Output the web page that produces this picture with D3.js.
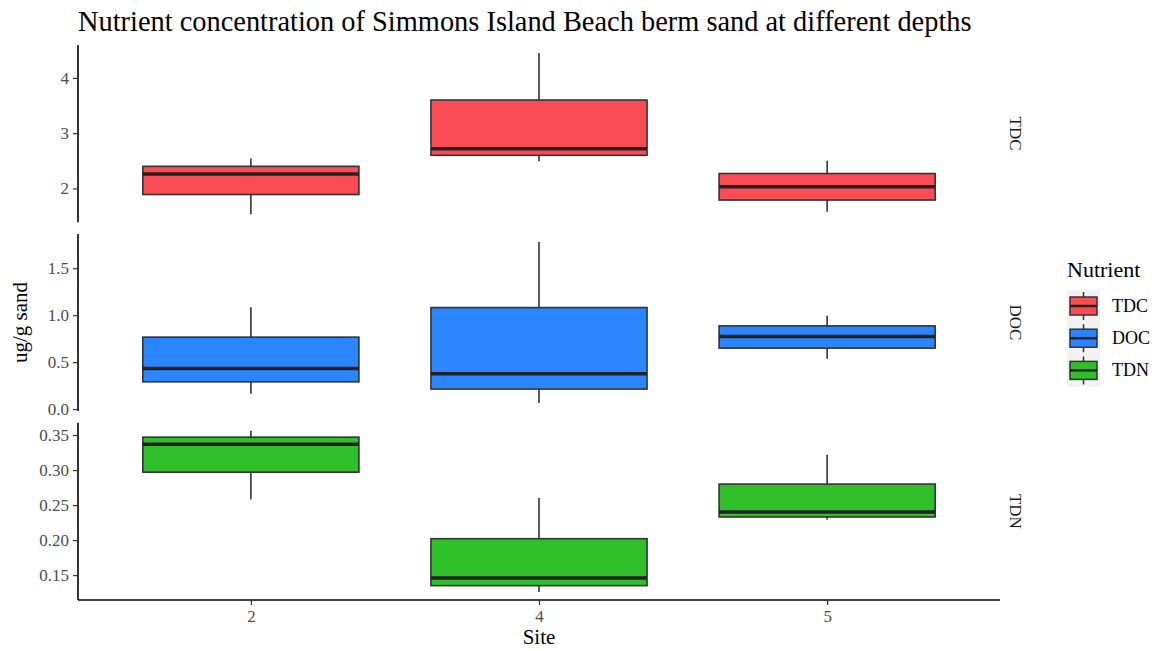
<!DOCTYPE html>
<html>
<head>
<meta charset="utf-8">
<style>
body { margin: 0; background: #fff; }
svg { font-family: 'Liberation Serif', 'DejaVu Serif', serif; }
.tick text { fill: #4d4d4d; font-size: 17px; font-family: 'Liberation Serif', 'DejaVu Serif', serif; }
.tick line { stroke: #333; stroke-width: 1.2; }
.domain { stroke: #000; stroke-width: 1.6; }
</style>
</head>
<body>
<svg></svg>
<script src="https://d3js.org/d3.v7.min.js"></script>
<script>

const sites = ['2', '4', '5'];
const nutrients = ['TDC', 'DOC', 'TDN'];
const colors = ['#fa4c55', '#2b85ff', '#2ebf2a'];

// [lower whisker, q1, median, q3, upper whisker] per site
const tdcStats = [
    [1.535, 1.89, 2.26, 2.40, 2.54],
    [2.49, 2.60, 2.72, 3.60, 4.45],
    [1.58, 1.79, 2.03, 2.27, 2.50],
];
const docStats = [
    [0.163, 0.29, 0.432, 0.766, 1.085],
    [0.064, 0.213, 0.376, 1.081, 1.78],
    [0.535, 0.649, 0.772, 0.886, 0.993],
];
const tdnStats = [
    [0.258, 0.297, 0.337, 0.347, 0.356],
    [0.126, 0.135, 0.146, 0.202, 0.260],
    [0.229, 0.233, 0.240, 0.280, 0.322],
];
const tdcTicks = [2, 3, 4];
const docTicks = [0, 0.5, 1.0, 1.5];
const tdnTicks = [0.15, 0.20, 0.25, 0.30, 0.35];

const panels = [
    {name: 'TDC', stats: tdcStats, ticks: tdcTicks, fmt: d3.format('d')},
    {name: 'DOC', stats: docStats, ticks: docTicks, fmt: d3.format('.1f')},
    {name: 'TDN', stats: tdnStats, ticks: tdnTicks, fmt: d3.format('.2f')},
];

const width = 1157;
const height = 651;
const plotLeft = 78, plotRight = 1000, plotTop = 45, plotBottom = 600;
const gap = 11.7;
const panelH = (plotBottom - plotTop - 2 * gap) / 3;

const svg = d3.select('svg')
    .attr('width', width)
    .attr('height', height);

const x = d3.scalePoint()
    .domain(sites)
    .range([plotLeft, plotRight])
    .padding(0.6);
const boxW = x.step() * 0.75;

panels.forEach((p, i) => {
    const y0 = plotTop + i * (panelH + gap);
    const lo = d3.min(p.stats, d => d[0]);
    const hi = d3.max(p.stats, d => d[4]);
    const ex = (hi - lo) * 0.05;
    const y = d3.scaleLinear()
        .domain([lo - ex, hi + ex])
        .range([y0 + panelH, y0]);

    const g = svg.append('g');
    const box = g.selectAll('.box').data(p.stats)
        .enter().append('g')
        .attr('class', 'box');

    box.append('line')
        .attr('x1', (d, j) => x(sites[j]))
        .attr('x2', (d, j) => x(sites[j]))
        .attr('y1', d => y(d[0]))
        .attr('y2', d => y(d[4]))
        .attr('stroke', '#333')
        .attr('stroke-width', 1.6);

    box.append('rect')
        .attr('x', (d, j) => x(sites[j]) - boxW / 2)
        .attr('width', boxW)
        .attr('y', d => y(d[3]))
        .attr('height', d => y(d[1]) - y(d[3]))
        .attr('fill', colors[i])
        .attr('stroke', '#333')
        .attr('stroke-width', 1.6);

    box.append('line')
        .attr('x1', (d, j) => x(sites[j]) - boxW / 2)
        .attr('x2', (d, j) => x(sites[j]) + boxW / 2)
        .attr('y1', d => y(d[2]))
        .attr('y2', d => y(d[2]))
        .attr('stroke', '#222')
        .attr('stroke-width', 3.5);

    svg.append('g')
        .attr('transform', `translate(${plotLeft},0)`)
        .call(d3.axisLeft(y).tickValues(p.ticks).tickFormat(p.fmt).tickSize(5).tickPadding(4))
        .call(a => a.select('.domain').attr('d', `M0,${y0}V${y0 + panelH}`));

    svg.append('text')
        .attr('transform', `translate(${1010},${y0 + panelH / 2}) rotate(90)`)
        .attr('text-anchor', 'middle')
        .attr('font-size', 17)
        .attr('fill', '#1a1a1a')
        .text(p.name);
});

svg.append('g')
    .attr('transform', `translate(0,${plotBottom})`)
    .call(d3.axisBottom(x).tickSize(5).tickPadding(5))
    .call(a => a.select('.domain').attr('d', `M${plotLeft},0H${plotRight}`));

svg.append('text')
    .attr('x', plotLeft)
    .attr('y', 31)
    .attr('font-size', 28.4)
    .attr('fill', '#000')
    .text('Nutrient concentration of Simmons Island Beach berm sand at different depths');

svg.append('text')
    .attr('x', (plotLeft + plotRight) / 2)
    .attr('y', 644)
    .attr('text-anchor', 'middle')
    .attr('font-size', 21)
    .text('Site');

svg.append('text')
    .attr('transform', `translate(27,${(plotTop + plotBottom) / 2}) rotate(-90)`)
    .attr('text-anchor', 'middle')
    .attr('font-size', 21)
    .text('ug/g sand');

// legend
const legend = svg.append('g').attr('transform', 'translate(1067,0)');
legend.append('text')
    .attr('x', 0)
    .attr('y', 277)
    .attr('font-size', 22)
    .text('Nutrient');

const key = legend.selectAll('.key').data(nutrients)
    .enter().append('g')
    .attr('transform', (d, i) => `translate(0,${290 + i * 32.2})`);

key.append('rect')
    .attr('width', 33).attr('height', 32.2)
    .attr('fill', '#f2f2f2');
key.append('line')
    .attr('x1', 16.5).attr('x2', 16.5)
    .attr('y1', 2).attr('y2', 30)
    .attr('stroke', '#333').attr('stroke-width', 1.5);
key.append('rect')
    .attr('x', 3).attr('y', 7)
    .attr('width', 27).attr('height', 18)
    .attr('fill', (d, i) => colors[i])
    .attr('stroke', '#333').attr('stroke-width', 1.5);
key.append('line')
    .attr('x1', 3).attr('x2', 30)
    .attr('y1', 16).attr('y2', 16)
    .attr('stroke', '#222').attr('stroke-width', 2.5);
key.append('text')
    .attr('x', 45)
    .attr('y', 22)
    .attr('font-size', 18)
    .text(d => d);

</script>
</body>
</html>
